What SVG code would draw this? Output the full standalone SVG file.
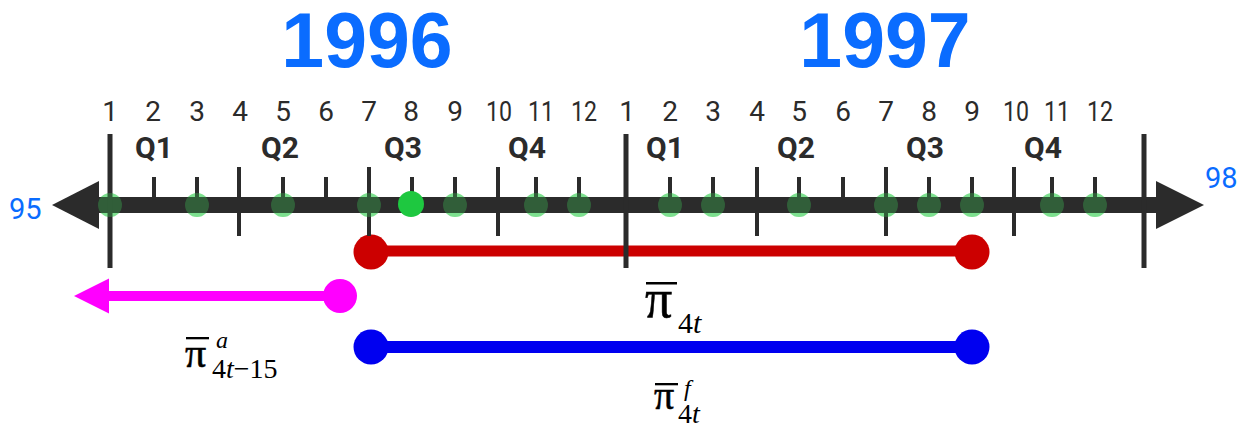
<svg xmlns="http://www.w3.org/2000/svg" width="1250" height="434" viewBox="0 0 1250 434">
<style>
.yr{font-family:"Liberation Sans",Arial,sans-serif;font-weight:bold;font-size:77px;fill:#0a6cff;text-anchor:middle}
.mo{font-family:Roboto,"Liberation Sans",sans-serif;font-size:28px;fill:#2b2b2b;text-anchor:middle}
.q{font-family:Roboto,"Liberation Sans",sans-serif;font-weight:bold;font-size:30px;fill:#2b2b2b;text-anchor:middle}
.end{font-family:Roboto,"Liberation Sans",sans-serif;font-size:29px;fill:#0a6cff}
.pi{font-family:"Liberation Serif","Times New Roman",serif;fill:#000;stroke:#000;stroke-width:0.5}
.sb{font-family:"Liberation Serif","Times New Roman",serif;fill:#000}
.it{font-style:italic}
.ty{stroke:#2b2b2b;stroke-width:5}
.tq{stroke:#2b2b2b;stroke-width:4}
.tm{stroke:#2b2b2b;stroke-width:4}
.fd{fill:#6edc80;fill-opacity:0.7}
.fo{fill:#3fd458;fill-opacity:0.3}
</style>
<g id="years">
<text class="yr" x="367" y="67">1996</text>
<text class="yr" x="885" y="67">1997</text>
</g>
<g id="months">
<text class="mo" x="110" y="121">1</text>
<text class="mo" x="153" y="121">2</text>
<text class="mo" x="197" y="121">3</text>
<text class="mo" x="240" y="121">4</text>
<text class="mo" x="283" y="121">5</text>
<text class="mo" x="326" y="121">6</text>
<text class="mo" x="369" y="121">7</text>
<text class="mo" x="411" y="121">8</text>
<text class="mo" x="455" y="121">9</text>
<text class="mo" x="499" y="121" textLength="26" lengthAdjust="spacingAndGlyphs">10</text>
<text class="mo" x="541" y="121" textLength="26" lengthAdjust="spacingAndGlyphs">11</text>
<text class="mo" x="584" y="121" textLength="26" lengthAdjust="spacingAndGlyphs">12</text>
<text class="mo" x="627" y="121">1</text>
<text class="mo" x="670" y="121">2</text>
<text class="mo" x="713" y="121">3</text>
<text class="mo" x="757" y="121">4</text>
<text class="mo" x="799" y="121">5</text>
<text class="mo" x="843" y="121">6</text>
<text class="mo" x="886" y="121">7</text>
<text class="mo" x="929" y="121">8</text>
<text class="mo" x="972" y="121">9</text>
<text class="mo" x="1016" y="121" textLength="26" lengthAdjust="spacingAndGlyphs">10</text>
<text class="mo" x="1057" y="121" textLength="26" lengthAdjust="spacingAndGlyphs">11</text>
<text class="mo" x="1100" y="121" textLength="26" lengthAdjust="spacingAndGlyphs">12</text>
</g>
<g id="quarters">
<text class="q" x="154" y="158">Q1</text>
<text class="q" x="280" y="158">Q2</text>
<text class="q" x="403" y="158">Q3</text>
<text class="q" x="527" y="158">Q4</text>
<text class="q" x="665" y="158">Q1</text>
<text class="q" x="796" y="158">Q2</text>
<text class="q" x="925" y="158">Q3</text>
<text class="q" x="1043" y="158">Q4</text>
</g>
<g id="ends">
<text class="end" x="9" y="219">95</text>
<text class="end" x="1205" y="188">98</text>
</g>
<g id="connectors">
<g id="red-range">
<line x1="371" y1="251" x2="972" y2="251" stroke="#cc0000" stroke-width="11"/>
<circle cx="371" cy="252" r="17.5" fill="#cc0000"/>
<circle cx="972" cy="252" r="17.5" fill="#cc0000"/>
</g>
<g id="magenta-range">
<line x1="105" y1="296" x2="340" y2="296" stroke="#ff00ff" stroke-width="10"/>
<polygon points="74,296 109,278.5 109,313.5" fill="#ff00ff"/>
<circle cx="340" cy="296" r="17" fill="#ff00ff"/>
</g>
<g id="blue-range">
<line x1="371" y1="347" x2="972" y2="347" stroke="#0000f0" stroke-width="12"/>
<circle cx="371" cy="347" r="17.5" fill="#0000f0"/>
<circle cx="972" cy="347" r="17.5" fill="#0000f0"/>
</g>
</g>
<g id="faded-points">
<circle class="fd" cx="110" cy="205" r="12"/>
<circle class="fd" cx="197" cy="205" r="12"/>
<circle class="fd" cx="283" cy="205" r="12"/>
<circle class="fd" cx="369" cy="205" r="12"/>
<circle class="fd" cx="455" cy="205" r="12"/>
<circle class="fd" cx="536" cy="205" r="12"/>
<circle class="fd" cx="579" cy="205" r="12"/>
<circle class="fd" cx="670" cy="205" r="12"/>
<circle class="fd" cx="713" cy="205" r="12"/>
<circle class="fd" cx="799" cy="205" r="12"/>
<circle class="fd" cx="886" cy="205" r="12"/>
<circle class="fd" cx="929" cy="205" r="12"/>
<circle class="fd" cx="972" cy="205" r="12"/>
<circle class="fd" cx="1052" cy="205" r="12"/>
<circle class="fd" cx="1095" cy="205" r="12"/>
</g>
<g id="axis">
<line x1="98" y1="205" x2="1158" y2="205" stroke="#2b2b2b" stroke-width="16"/>
<polygon points="52,205 99,181 99,229" fill="#2b2b2b"/>
<polygon points="1204,205 1156,181 1156,229" fill="#2b2b2b"/>
<line class="ty" x1="110" y1="134" x2="110" y2="268"/>
<line class="ty" x1="626" y1="134" x2="626" y2="268"/>
<line class="ty" x1="1144" y1="134" x2="1144" y2="268"/>
<g class="tq">
<line x1="239" y1="167" x2="239" y2="236"/>
<line x1="369" y1="167" x2="369" y2="236"/>
<line x1="498" y1="167" x2="498" y2="236"/>
<line x1="757" y1="167" x2="757" y2="236"/>
<line x1="886" y1="167" x2="886" y2="236"/>
<line x1="1014" y1="167" x2="1014" y2="236"/>
</g>
<g class="tm">
<line x1="154" y1="177" x2="154" y2="200"/>
<line x1="197" y1="177" x2="197" y2="200"/>
<line x1="283" y1="177" x2="283" y2="200"/>
<line x1="326" y1="177" x2="326" y2="200"/>
<line x1="412" y1="177" x2="412" y2="200"/>
<line x1="455" y1="177" x2="455" y2="200"/>
<line x1="536" y1="177" x2="536" y2="200"/>
<line x1="579" y1="177" x2="579" y2="200"/>
<line x1="670" y1="177" x2="670" y2="200"/>
<line x1="713" y1="177" x2="713" y2="200"/>
<line x1="799" y1="177" x2="799" y2="200"/>
<line x1="843" y1="177" x2="843" y2="200"/>
<line x1="929" y1="177" x2="929" y2="200"/>
<line x1="972" y1="177" x2="972" y2="200"/>
<line x1="1052" y1="177" x2="1052" y2="200"/>
<line x1="1095" y1="177" x2="1095" y2="200"/>
</g>
</g>
<g id="data-points">
<circle class="fo" cx="110" cy="205" r="12"/>
<circle class="fo" cx="197" cy="205" r="12"/>
<circle class="fo" cx="283" cy="205" r="12"/>
<circle class="fo" cx="369" cy="205" r="12"/>
<circle class="fo" cx="455" cy="205" r="12"/>
<circle class="fo" cx="536" cy="205" r="12"/>
<circle class="fo" cx="579" cy="205" r="12"/>
<circle class="fo" cx="670" cy="205" r="12"/>
<circle class="fo" cx="713" cy="205" r="12"/>
<circle class="fo" cx="799" cy="205" r="12"/>
<circle class="fo" cx="886" cy="205" r="12"/>
<circle class="fo" cx="929" cy="205" r="12"/>
<circle class="fo" cx="972" cy="205" r="12"/>
<circle class="fo" cx="1052" cy="205" r="12"/>
<circle class="fo" cx="1095" cy="205" r="12"/>
<circle cx="411" cy="204" r="13" fill="#1ec840"/>
</g>
<g id="label-pi4t">
<rect x="646" y="282" width="31" height="2.5" fill="#000"/>
<text class="pi" x="645" y="317" font-size="54">π</text>
<text class="sb" x="678" y="333" font-size="30">4<tspan class="it">t</tspan></text>
</g>
<g id="label-pia">
<rect x="186" y="337" width="23" height="2.3" fill="#000"/>
<text class="pi" x="185" y="367" font-size="42">π</text>
<text class="sb it" x="216" y="348" font-size="24">a</text>
<text class="sb" x="212" y="378" font-size="28">4<tspan class="it">t</tspan>−15</text>
</g>
<g id="label-pif">
<rect x="655" y="383" width="23" height="2.3" fill="#000"/>
<text class="pi" x="654" y="409" font-size="40">π</text>
<text class="sb it" x="684" y="396" font-size="24">f</text>
<text class="sb" x="678" y="423" font-size="28">4<tspan class="it">t</tspan></text>
</g>
</svg>
